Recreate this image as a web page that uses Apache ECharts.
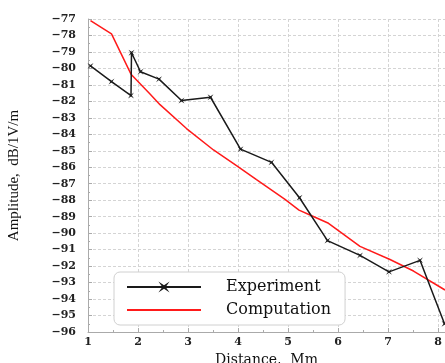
<!DOCTYPE html>
<html><head><meta charset="utf-8">
<script src="https://cdn.jsdelivr.net/npm/echarts@6/dist/echarts.min.js"></script>
<style>html,body{margin:0;padding:0;background:#fff}#c{width:445px;height:363px}</style>
</head><body><div id="c"></div>
<script>
const seriesNames = ['Experiment', 'Computation'];
const experimentX = [1.05, 1.47, 1.86, 1.87, 2.05, 2.42, 2.87, 3.45, 4.05, 4.67, 5.23, 5.79, 6.44, 7.02, 7.64, 8.13];
const experimentY = [-79.85, -80.8, -81.65, -79.05, -80.2, -80.65, -81.95, -81.75, -84.9, -85.7, -87.85, -90.45, -91.35, -92.35, -91.65, -95.5];
const computationX = [1.05, 1.47, 1.86, 2.24, 2.44, 2.97, 3.51, 3.97, 4.37, 4.94, 5.22, 5.44, 5.81, 6.44, 7.04, 7.51, 8.14];
const computationY = [-77.1, -77.9, -80.35, -81.55, -82.2, -83.65, -84.95, -85.9, -86.75, -87.95, -88.6, -88.9, -89.4, -90.8, -91.6, -92.3, -93.45];
const xTicks = [1, 2, 3, 4, 5, 6, 7, 8];
const yMin = -96, yMax = -77;

const star = 'path://M-10,-10 L0,-3 L10,-10 L3,0 L10,10 L0,3 L-10,10 L-3,0 Z';
const chart = echarts.init(document.getElementById('c'));
chart.setOption({
  animation: false,
  backgroundColor: '#fff',
  grid: {left: 88, right: 0, top: 19, bottom: 31, containLabel: false, outerBoundsMode: 'none'},
  legend: {
    orient: 'vertical', left: 114, top: 272,
    padding: [7, 14, 7, 12], itemGap: 7,
    itemWidth: 74, itemHeight: 14,
    backgroundColor: '#fff', borderColor: '#d0d0d0', borderWidth: 1, borderRadius: 6,
    textStyle: {fontFamily: 'DejaVu Serif', fontSize: 16, color: '#111', padding: [0, 0, 0, 20]},
    data: seriesNames
  },
  xAxis: {
    type: 'value', min: 1, max: 8.14, interval: 1,
    name: 'Distance,  Mm', nameLocation: 'middle', nameGap: 17,
    nameTextStyle: {fontFamily: 'DejaVu Serif', fontSize: 14, color: '#111'},
    axisLine: {lineStyle: {color: '#aaa'}},
    axisTick: {inside: true, length: 4, lineStyle: {color: '#aaa'}},
    minorTick: {show: true, splitNumber: 2, length: 2, lineStyle: {color: '#aaa'}},
    axisLabel: {margin: 5, fontFamily: 'DejaVu Serif', fontWeight: 'bold', fontSize: 11, color: '#222',
      formatter: v => xTicks.includes(v) ? String(v) : ''},
    splitLine: {show: true, lineStyle: {color: '#d4d4d4', type: [3, 2]}}
  },
  yAxis: {
    type: 'value', min: yMin, max: yMax, interval: 1,
    name: 'Amplitude,  dB/1V/m', nameLocation: 'middle', nameGap: 66, nameRotate: 90,
    nameTextStyle: {fontFamily: 'Liberation Sans Narrow, Liberation Serif', fontSize: 15, color: '#111'},
    axisLine: {show: true, lineStyle: {color: '#aaa'}},
    axisTick: {inside: true, length: 4, lineStyle: {color: '#aaa'}},
    minorTick: {show: true, splitNumber: 2, length: 2, lineStyle: {color: '#aaa'}},
    axisLabel: {margin: 12, fontFamily: 'DejaVu Serif', fontWeight: 'bold', fontSize: 11, color: '#222',
      formatter: v => '\u2212' + Math.abs(v)},
    splitLine: {show: true, lineStyle: {color: '#d4d4d4', type: [3, 2]}}
  },
  series: [
    {name: seriesNames[0], type: 'line', data: experimentX.map((x, i) => [x, experimentY[i]]),
     symbol: star, symbolSize: 6, showSymbol: true,
     lineStyle: {color: '#1a1a1a', width: 1.5}, itemStyle: {color: '#1a1a1a'}, z: 3},
    {name: seriesNames[1], type: 'line', data: computationX.map((x, i) => [x, computationY[i]]),
     symbol: 'circle', showSymbol: false, lineStyle: {color: '#ff1a1a', width: 1.5},
     itemStyle: {color: 'rgba(0,0,0,0)', borderWidth: 0}, z: 2}
  ]
});
</script></body></html>
